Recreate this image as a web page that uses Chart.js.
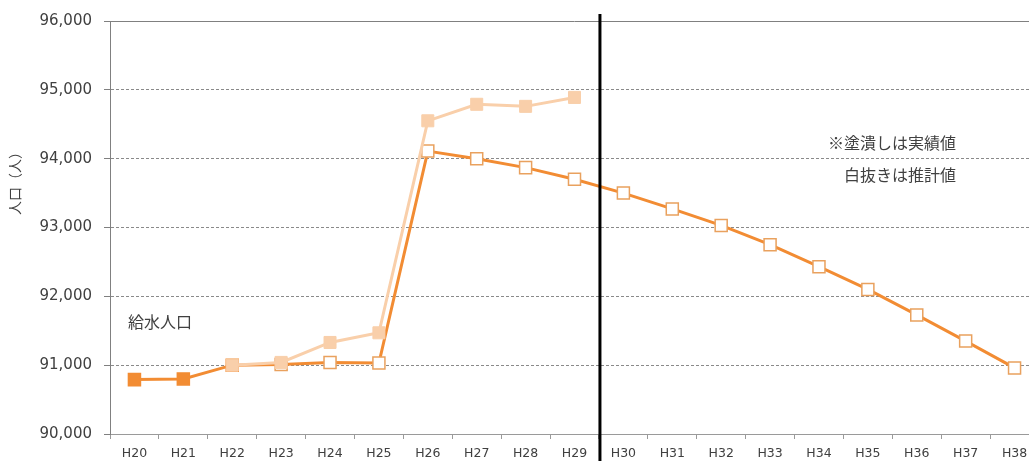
<!DOCTYPE html>
<html>
<head>
<meta charset="utf-8">
<script src="https://cdn.jsdelivr.net/npm/chart.js@4/dist/chart.umd.min.js"></script>
<style>
  html, body { margin: 0; padding: 0; background: #fff; overflow: hidden; }
  #wrap { width: 1029px; height: 461px; overflow: hidden; }
  #line-chart { display: block; width: 1039px; height: 461px; }
</style>
</head>
<body>
<div id="wrap"><canvas id="line-chart" width="1039" height="461"></canvas></div>
<script>
// 年度 (平成)
var years = ['H20', 'H21', 'H22', 'H23', 'H24', 'H25', 'H26', 'H27', 'H28', 'H29',
             'H30', 'H31', 'H32', 'H33', 'H34', 'H35', 'H36', 'H37', 'H38'];

// 給水人口 (推計ライン)
var supplyPop = [90790, 90800, 91000, 91010, 91040, 91030, 94110, 94000, 93870, 93700,
                 93500, 93270, 93030, 92750, 92430, 92100, 91730, 91350, 90960];

// 実績値 (薄い方のライン)
var actualPop = [null, null, 91000, 91040, 91330, 91470, 94550, 94790, 94760, 94890,
                 null, null, null, null, null, null, null, null, null];

// 推計ラインで実績(塗潰し)扱いになる最後の年度
var lastActualYear = 'H22';
// 実績と推計の区切り (H29 と H30 の間)
var splitAfter = 'H29';

var yTicks = [90000, 91000, 92000, 93000, 94000, 95000, 96000];

var orange = '#F28C33';
var lightOrange = '#F9CFAA';
var textColor = '#404040';
var lastActualIdx = years.indexOf(lastActualYear);

// 枠線・区切り線・注記
var extras = {
  id: 'extras',
  afterDatasetsDraw: function(chart) {
    var ctx = chart.ctx;
    var area = chart.chartArea;
    var x = chart.scales.x;
    ctx.save();
    // top border
    ctx.strokeStyle = '#808080';
    ctx.lineWidth = 1;
    ctx.beginPath();
    ctx.moveTo(area.left, Math.round(area.top) + 0.5);
    ctx.lineTo(area.right, Math.round(area.top) + 0.5);
    ctx.stroke();
    // black divider
    var i = years.indexOf(splitAfter);
    var xs = (x.getPixelForValue(i) + x.getPixelForValue(i + 1)) / 2 + 1;
    ctx.strokeStyle = '#000';
    ctx.lineWidth = 3;
    ctx.beginPath();
    ctx.moveTo(xs, area.top - 7);
    ctx.lineTo(xs, chart.height);
    ctx.stroke();

    ctx.fillStyle = textColor;
    ctx.textBaseline = 'middle';
    ctx.font = '16px "Noto Sans CJK JP"';
    ctx.textAlign = 'left';
    ctx.fillText('給水人口', 128, 322);
    ctx.textAlign = 'right';
    ctx.fillText('※塗潰しは実績値', 956, 143);
    ctx.fillText('白抜きは推計値', 956, 175);

    // y axis title
    ctx.font = '14px "Noto Sans CJK JP"';
    ctx.translate(15, 180);
    ctx.rotate(-Math.PI / 2);
    ctx.textAlign = 'center';
    ctx.fillText('人口（人）', 0, 0);
    ctx.restore();
  }
};

new Chart(document.getElementById('line-chart'), {
  type: 'line',
  data: {
    labels: years,
    datasets: [{
        label: '実績',
        data: actualPop,
        borderColor: lightOrange,
        backgroundColor: lightOrange,
        borderWidth: 3,
        pointStyle: 'rect',
        pointRadius: 8.5,
        pointBorderWidth: 1,
        pointBackgroundColor: lightOrange,
        pointBorderColor: lightOrange,
        tension: 0,
        spanGaps: false
      }, {
        label: '給水人口',
        data: supplyPop,
        borderColor: orange,
        backgroundColor: orange,
        borderWidth: 3,
        pointStyle: 'rect',
        pointRadius: 8.5,
        pointBorderWidth: 1.5,
        pointBackgroundColor: supplyPop.map(function(v, i) { return i <= lastActualIdx ? orange : '#ffffff'; }),
        pointBorderColor: supplyPop.map(function(v, i) { return i <= lastActualIdx ? orange : '#E9A15E'; }),
        tension: 0
      }
    ]
  },
  options: {
    responsive: false,
    animation: false,
    layout: { autoPadding: false, padding: { top: 15, right: 0, bottom: 0, left: 0 } },
    plugins: {
      legend: { display: false },
      tooltip: { enabled: false }
    },
    scales: {
      x: {
        offset: true,
        afterFit: function(scale) {
          scale.height = 27;
          scale.paddingLeft = 0;
          scale.paddingRight = 0;
        },
        grid: {
          offset: true,
          drawOnChartArea: false,
          drawTicks: true,
          tickLength: 5,
          tickColor: '#9a9a9a'
        },
        border: { color: '#9a9a9a', width: 1 },
        ticks: {
          color: textColor,
          padding: 7,
          maxRotation: 0,
          autoSkip: false,
          font: { family: 'DejaVu Sans', size: 12.5 }
        }
      },
      y: {
        min: yTicks[0],
        max: yTicks[yTicks.length - 1],
        afterFit: function(scale) { scale.width = 110; },
        afterBuildTicks: function(scale) {
          scale.ticks = yTicks.map(function(v) { return { value: v }; });
        },
        grid: {
          color: '#8a8a8a',
          lineWidth: 1,
          drawTicks: true,
          tickLength: 6,
          tickColor: '#808080'
        },
        border: { color: '#808080', width: 1, dash: [3, 2] },
        ticks: {
          color: textColor,
          padding: 12,
          font: { family: 'DejaVu Sans', size: 15 },
          callback: function(v) { return v.toLocaleString('en-US'); }
        }
      }
    }
  },
  plugins: [extras]
});
</script>
</body>
</html>
